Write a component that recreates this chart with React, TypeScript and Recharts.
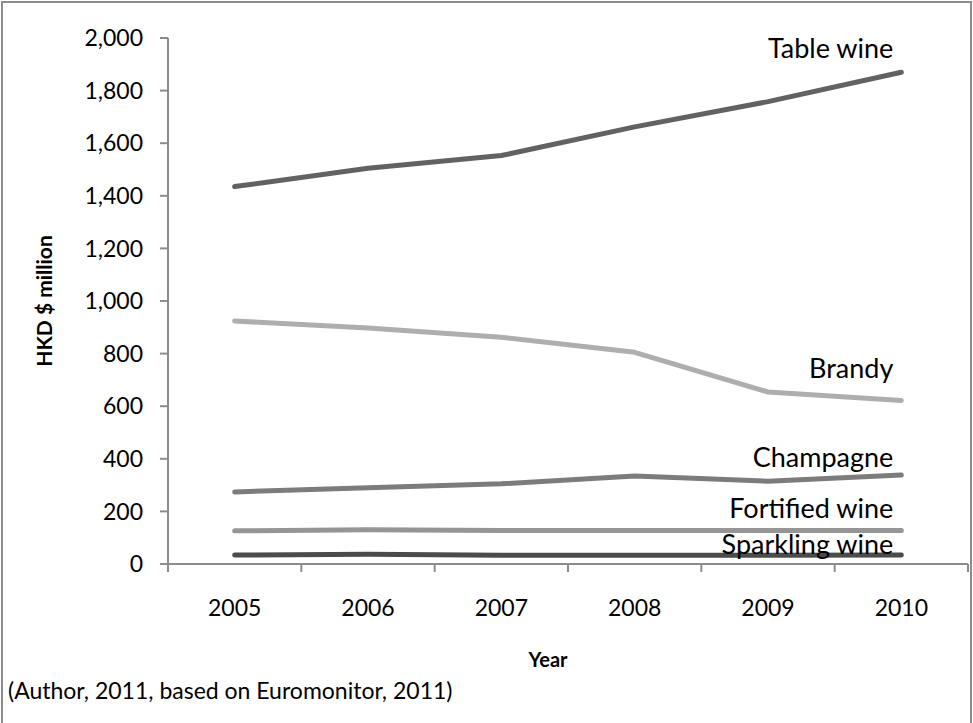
import React from "react";
import { LineChart, Line, XAxis, YAxis, LabelList, Label, ReferenceLine } from "recharts";

const years = [2005, 2006, 2007, 2008, 2009, 2010];
const tableWine = [1435, 1505, 1553, 1662, 1758, 1870];
const brandy = [924, 897, 862, 805, 654, 622];
const champagne = [274, 290, 305, 335, 315, 338];
const fortified = [126, 130, 127, 127, 127, 127];
const sparkling = [34, 37, 33, 33, 33, 34];
const yTicks = [0, 200, 400, 600, 800, 1000, 1200, 1400, 1600, 1800, 2000];

const seriesNames = ["Table wine", "Brandy", "Champagne", "Fortified wine", "Sparkling wine"];

const data = years.map((y, i) => ({
  year: y,
  table: tableWine[i],
  brandy: brandy[i],
  champagne: champagne[i],
  fortified: fortified[i],
  sparkling: sparkling[i],
}));

const boundaryTicks = [...years.map((y) => y - 0.5), years[years.length - 1] + 0.5];
const xDomain = [years[0] - 0.5, years[years.length - 1] + 0.5];
const TICK_DEPTH = -30; // tick-mark length below zero, in value units (~8px)

const FONT = "Lato, 'Open Sans', sans-serif";
const AXIS = "#8c8c8c";

const series = [
  { key: "table", name: seriesNames[0], color: "#626262", dy: -25 },
  { key: "brandy", name: seriesNames[1], color: "#aeaeae", dy: -33 },
  { key: "champagne", name: seriesNames[2], color: "#7c7c7c", dy: -19 },
  { key: "fortified", name: seriesNames[3], color: "#959595", dy: -23 },
  { key: "sparkling", name: seriesNames[4], color: "#4b4b4b", dy: -12 },
];

const makeLabel = (name: string, dy: number) => (props: any) => {
  const { x, y, index } = props;
  if (index !== years.length - 1) return null;
  return (
    <text
      x={x - 8}
      y={y + dy}
      textAnchor="end"
      dominantBaseline="central"
      fontFamily={FONT}
      fontSize={27}
      fill="#000"
    >
      {name}
    </text>
  );
};

export default function App() {
  return (
    <div style={{ position: "absolute", left: 0, top: 0, width: 973, height: 723, background: "#fff" }}>
      <LineChart
        width={973}
        height={723}
        data={data}
        margin={{ top: 38, right: 5, bottom: 0, left: 0 }}
      >
        <XAxis
          type="number"
          dataKey="year"
          domain={xDomain}
          ticks={years}
          interval={0}
          axisLine={{ stroke: AXIS, strokeWidth: 2 }}
          tickLine={false}
          tickSize={0}
          tickMargin={36}
          height={159}
          tick={{ fill: "#000", fontSize: 23, fontFamily: FONT }}
        >
          <Label
            value="Year"
            position="center"
            dx={-20}
            dy={16}
            style={{ fontFamily: FONT, fontSize: 20, fontWeight: 700, fill: "#000" }}
          />
        </XAxis>
        <YAxis
          type="number"
          domain={[0, 2000]}
          ticks={yTicks}
          interval={0}
          width={168}
          tickSize={8}
          tickMargin={17}
          stroke={AXIS}
          strokeWidth={2}
          allowDataOverflow
          tickFormatter={(v: number) => v.toLocaleString("en-US")}
          tick={{ fill: "#000", fontSize: 23, fontFamily: FONT }}
        >
          <Label
            value="HKD $ million"
            angle={-90}
            position="center"
            dx={-39}
            style={{ fontFamily: FONT, fontSize: 21, fontWeight: 700, fill: "#000", textAnchor: "middle" }}
          />
        </YAxis>
        {boundaryTicks.map((b) => (
          <ReferenceLine
            key={b}
            segment={[
              { x: b, y: 0 },
              { x: b, y: TICK_DEPTH },
            ]}
            ifOverflow="visible"
            stroke={AXIS}
            strokeWidth={2}
          />
        ))}
        {series.map((s) => (
          <Line
            key={s.key}
            dataKey={s.key}
            name={s.name}
            type="linear"
            stroke={s.color}
            strokeWidth={5}
            strokeLinecap="round"
            strokeLinejoin="round"
            dot={false}
            activeDot={false}
            isAnimationActive={false}
          >
            <LabelList dataKey={s.key} content={makeLabel(s.name, s.dy)} />
          </Line>
        ))}
      </LineChart>
      <div
        style={{
          position: "absolute",
          left: 1,
          top: 1,
          width: 967,
          height: 722,
          borderLeft: `2px solid ${AXIS}`,
          borderTop: `2px solid ${AXIS}`,
          borderRight: `2px solid ${AXIS}`,
          pointerEvents: "none",
        }}
      />
      <div
        style={{
          position: "absolute",
          left: 8,
          top: 676,
          fontFamily: FONT,
          fontSize: 23,
          color: "#000",
          whiteSpace: "nowrap",
          lineHeight: "28px",
        }}
      >
        (Author, 2011, based on Euromonitor, 2011)
      </div>
    </div>
  );
}
